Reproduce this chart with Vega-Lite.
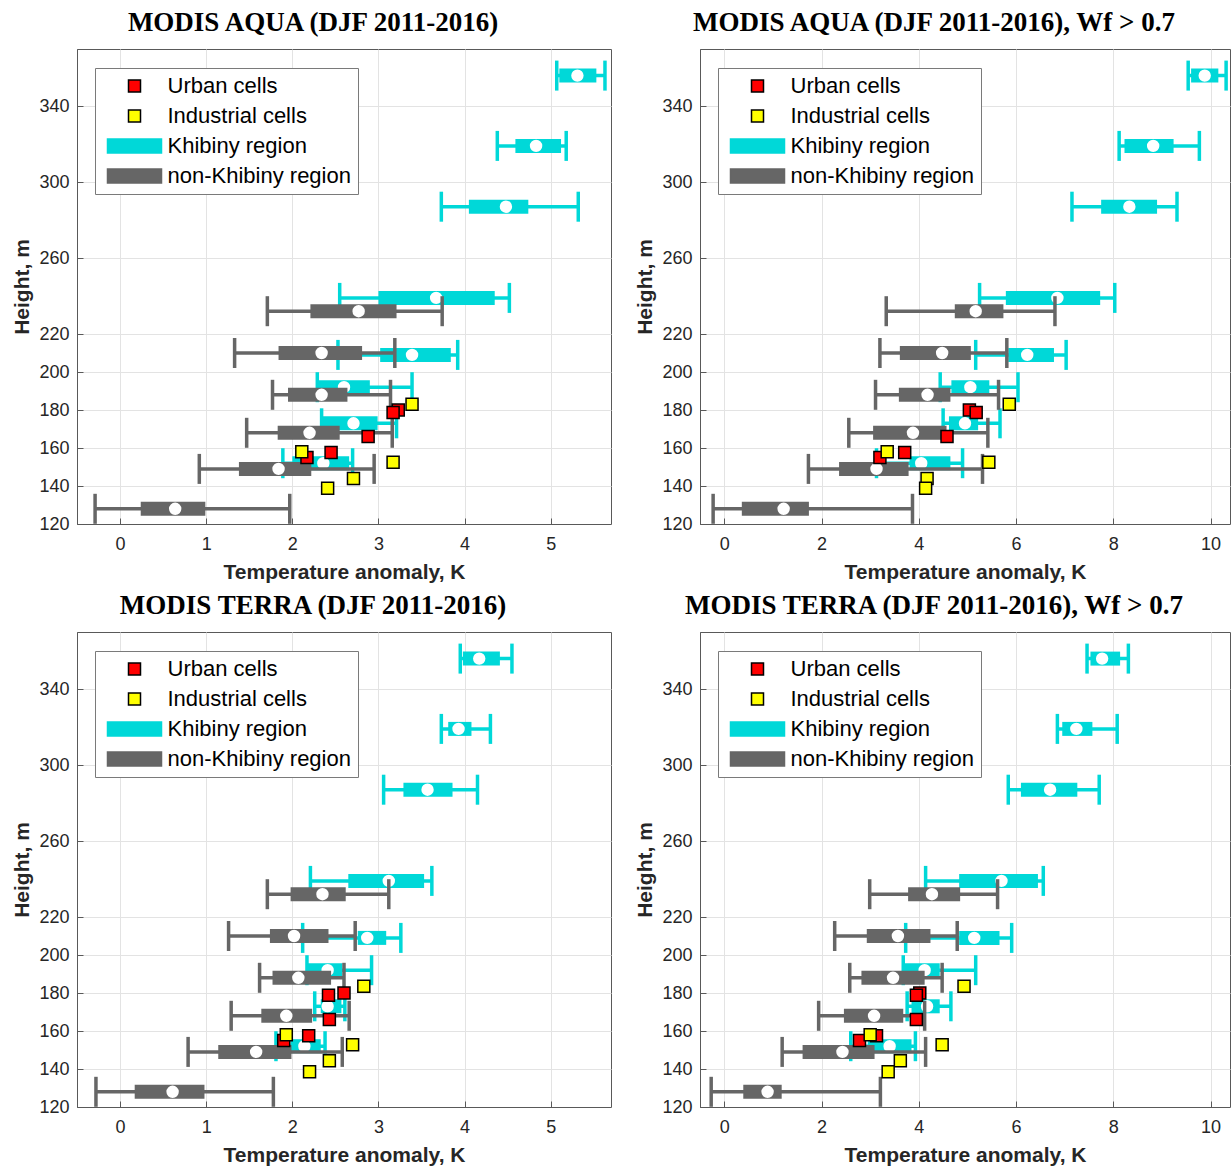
{
  "$schema": "https://vega.github.io/schema/vega-lite/v6.json",
  "background": "white",
  "padding": {"left": 11, "top": 8, "right": 0, "bottom": 0},
  "columns": 2,
  "bounds": "flush",
  "spacing": {"row": 108, "column": 89},
  "resolve": {
    "scale": {"fill": "independent", "stroke": "independent", "shape": "independent"},
    "legend": {"fill": "independent", "stroke": "independent", "shape": "independent"}
  },
  "datasets": {
    "boxes": [
      {"p":"A","r":"K","h":356,"lo":5.07,"q1":5.1,"md":5.31,"q3":5.53,"hi":5.63},
      {"p":"A","r":"K","h":319,"lo":4.38,"q1":4.59,"md":4.83,"q3":5.12,"hi":5.18},
      {"p":"A","r":"K","h":287,"lo":3.73,"q1":4.05,"md":4.48,"q3":4.74,"hi":5.32},
      {"p":"A","r":"K","h":239,"lo":2.55,"q1":3.0,"md":3.67,"q3":4.35,"hi":4.52},
      {"p":"A","r":"K","h":209,"lo":2.53,"q1":3.02,"md":3.39,"q3":3.84,"hi":3.92},
      {"p":"A","r":"K","h":192,"lo":2.29,"q1":2.29,"md":2.6,"q3":2.9,"hi":3.39},
      {"p":"A","r":"K","h":173,"lo":2.34,"q1":2.34,"md":2.71,"q3":2.99,"hi":3.21},
      {"p":"A","r":"K","h":152,"lo":1.89,"q1":2.0,"md":2.36,"q3":2.66,"hi":2.7},
      {"p":"A","r":"N","h":232,"lo":1.71,"q1":2.21,"md":2.77,"q3":3.21,"hi":3.74},
      {"p":"A","r":"N","h":210,"lo":1.33,"q1":1.84,"md":2.34,"q3":2.81,"hi":3.19},
      {"p":"A","r":"N","h":188,"lo":1.77,"q1":1.95,"md":2.34,"q3":2.64,"hi":3.14},
      {"p":"A","r":"N","h":168,"lo":1.47,"q1":1.83,"md":2.2,"q3":2.55,"hi":3.16},
      {"p":"A","r":"N","h":149,"lo":0.92,"q1":1.38,"md":1.84,"q3":2.22,"hi":2.95},
      {"p":"A","r":"N","h":128,"lo":-0.29,"q1":0.24,"md":0.64,"q3":0.99,"hi":1.97},

      {"p":"B","r":"K","h":356,"lo":9.54,"q1":9.6,"md":9.88,"q3":10.16,"hi":10.32},
      {"p":"B","r":"K","h":319,"lo":8.12,"q1":8.23,"md":8.82,"q3":9.24,"hi":9.77},
      {"p":"B","r":"K","h":287,"lo":7.15,"q1":7.75,"md":8.33,"q3":8.9,"hi":9.31},
      {"p":"B","r":"K","h":239,"lo":5.25,"q1":5.79,"md":6.85,"q3":7.73,"hi":8.03},
      {"p":"B","r":"K","h":209,"lo":5.17,"q1":5.84,"md":6.23,"q3":6.78,"hi":7.03},
      {"p":"B","r":"K","h":192,"lo":4.44,"q1":4.67,"md":5.06,"q3":5.45,"hi":6.04},
      {"p":"B","r":"K","h":173,"lo":4.5,"q1":4.62,"md":4.95,"q3":5.22,"hi":5.67},
      {"p":"B","r":"K","h":152,"lo":3.13,"q1":3.81,"md":4.05,"q3":4.65,"hi":4.9},
      {"p":"B","r":"N","h":232,"lo":3.33,"q1":4.74,"md":5.17,"q3":5.74,"hi":6.8},
      {"p":"B","r":"N","h":210,"lo":3.2,"q1":3.61,"md":4.48,"q3":5.07,"hi":5.81},
      {"p":"B","r":"N","h":188,"lo":3.11,"q1":3.59,"md":4.18,"q3":4.65,"hi":5.64},
      {"p":"B","r":"N","h":168,"lo":2.56,"q1":3.06,"md":3.88,"q3":4.57,"hi":5.42},
      {"p":"B","r":"N","h":149,"lo":1.73,"q1":2.36,"md":3.13,"q3":3.79,"hi":5.31},
      {"p":"B","r":"N","h":128,"lo":-0.23,"q1":0.36,"md":1.22,"q3":1.74,"hi":3.87},

      {"p":"C","r":"K","h":356,"lo":3.95,"q1":3.98,"md":4.17,"q3":4.41,"hi":4.55},
      {"p":"C","r":"K","h":319,"lo":3.73,"q1":3.81,"md":3.93,"q3":4.08,"hi":4.3},
      {"p":"C","r":"K","h":287,"lo":3.06,"q1":3.29,"md":3.57,"q3":3.86,"hi":4.15},
      {"p":"C","r":"K","h":239,"lo":2.21,"q1":2.65,"md":3.12,"q3":3.53,"hi":3.62},
      {"p":"C","r":"K","h":209,"lo":2.12,"q1":2.76,"md":2.87,"q3":3.09,"hi":3.26},
      {"p":"C","r":"K","h":192,"lo":2.17,"q1":2.17,"md":2.41,"q3":2.58,"hi":2.92},
      {"p":"C","r":"K","h":173,"lo":2.26,"q1":2.33,"md":2.41,"q3":2.57,"hi":2.61},
      {"p":"C","r":"K","h":152,"lo":1.81,"q1":1.98,"md":2.14,"q3":2.33,"hi":2.38},
      {"p":"C","r":"N","h":232,"lo":1.71,"q1":1.98,"md":2.35,"q3":2.62,"hi":3.12},
      {"p":"C","r":"N","h":210,"lo":1.26,"q1":1.74,"md":2.02,"q3":2.42,"hi":2.73},
      {"p":"C","r":"N","h":188,"lo":1.62,"q1":1.77,"md":2.07,"q3":2.45,"hi":2.6},
      {"p":"C","r":"N","h":168,"lo":1.29,"q1":1.64,"md":1.93,"q3":2.23,"hi":2.66},
      {"p":"C","r":"N","h":149,"lo":0.79,"q1":1.14,"md":1.58,"q3":1.99,"hi":2.58},
      {"p":"C","r":"N","h":128,"lo":-0.28,"q1":0.17,"md":0.61,"q3":0.98,"hi":1.78},

      {"p":"D","r":"K","h":356,"lo":7.46,"q1":7.53,"md":7.77,"q3":8.14,"hi":8.31},
      {"p":"D","r":"K","h":319,"lo":6.85,"q1":6.95,"md":7.24,"q3":7.57,"hi":8.08},
      {"p":"D","r":"K","h":287,"lo":5.84,"q1":6.1,"md":6.7,"q3":7.26,"hi":7.71},
      {"p":"D","r":"K","h":239,"lo":4.14,"q1":4.83,"md":5.7,"q3":6.45,"hi":6.56},
      {"p":"D","r":"K","h":209,"lo":3.73,"q1":4.83,"md":5.14,"q3":5.66,"hi":5.91},
      {"p":"D","r":"K","h":192,"lo":3.68,"q1":3.68,"md":4.12,"q3":4.43,"hi":5.17},
      {"p":"D","r":"K","h":173,"lo":3.76,"q1":3.85,"md":4.17,"q3":4.43,"hi":4.66},
      {"p":"D","r":"K","h":152,"lo":2.6,"q1":2.95,"md":3.4,"q3":3.85,"hi":3.93},
      {"p":"D","r":"N","h":232,"lo":2.99,"q1":3.78,"md":4.27,"q3":4.85,"hi":5.62},
      {"p":"D","r":"N","h":210,"lo":2.27,"q1":2.93,"md":3.57,"q3":4.24,"hi":4.79},
      {"p":"D","r":"N","h":188,"lo":2.58,"q1":2.82,"md":3.47,"q3":4.12,"hi":4.48},
      {"p":"D","r":"N","h":168,"lo":1.94,"q1":2.46,"md":3.08,"q3":3.68,"hi":4.12},
      {"p":"D","r":"N","h":149,"lo":1.19,"q1":1.61,"md":2.43,"q3":3.09,"hi":4.14},
      {"p":"D","r":"N","h":128,"lo":-0.27,"q1":0.39,"md":0.89,"q3":1.18,"hi":3.21}
    ],
    "cells": [
      {"p":"A","c":"Urban cells","h":180,"t":3.23},
      {"p":"A","c":"Urban cells","h":178.7,"t":3.17},
      {"p":"A","c":"Urban cells","h":166,"t":2.88},
      {"p":"A","c":"Urban cells","h":157.6,"t":2.45},
      {"p":"A","c":"Urban cells","h":155,"t":2.17},
      {"p":"A","c":"Industrial cells","h":183,"t":3.39},
      {"p":"A","c":"Industrial cells","h":158,"t":2.11},
      {"p":"A","c":"Industrial cells","h":152.5,"t":3.17},
      {"p":"A","c":"Industrial cells","h":144,"t":2.71},
      {"p":"A","c":"Industrial cells","h":138.8,"t":2.41},

      {"p":"B","c":"Urban cells","h":180,"t":5.04},
      {"p":"B","c":"Urban cells","h":178.7,"t":5.18},
      {"p":"B","c":"Urban cells","h":166,"t":4.58},
      {"p":"B","c":"Urban cells","h":157.6,"t":3.71},
      {"p":"B","c":"Urban cells","h":155,"t":3.2},
      {"p":"B","c":"Industrial cells","h":183,"t":5.86},
      {"p":"B","c":"Industrial cells","h":158,"t":3.35},
      {"p":"B","c":"Industrial cells","h":152.5,"t":5.44},
      {"p":"B","c":"Industrial cells","h":144,"t":4.17},
      {"p":"B","c":"Industrial cells","h":138.8,"t":4.14},

      {"p":"C","c":"Urban cells","h":180,"t":2.6},
      {"p":"C","c":"Urban cells","h":178.8,"t":2.42},
      {"p":"C","c":"Urban cells","h":166,"t":2.43},
      {"p":"C","c":"Urban cells","h":157.5,"t":2.19},
      {"p":"C","c":"Urban cells","h":155,"t":1.9},
      {"p":"C","c":"Industrial cells","h":183.5,"t":2.83},
      {"p":"C","c":"Industrial cells","h":158,"t":1.93},
      {"p":"C","c":"Industrial cells","h":152.7,"t":2.7},
      {"p":"C","c":"Industrial cells","h":144.3,"t":2.43},
      {"p":"C","c":"Industrial cells","h":138.6,"t":2.2},

      {"p":"D","c":"Urban cells","h":180,"t":4.02},
      {"p":"D","c":"Urban cells","h":178.8,"t":3.95},
      {"p":"D","c":"Urban cells","h":166,"t":3.95},
      {"p":"D","c":"Urban cells","h":157.5,"t":3.13},
      {"p":"D","c":"Urban cells","h":155,"t":2.78},
      {"p":"D","c":"Industrial cells","h":183.5,"t":4.93},
      {"p":"D","c":"Industrial cells","h":158,"t":3.0},
      {"p":"D","c":"Industrial cells","h":152.7,"t":4.48},
      {"p":"D","c":"Industrial cells","h":144.3,"t":3.62},
      {"p":"D","c":"Industrial cells","h":138.6,"t":3.37}
    ]
  },
  "concat": [
    {
      "width": 534, "height": 475,
      "title": {"text": "MODIS AQUA (DJF 2011-2016)", "dx": -31},
      "encoding": {"y": {"field": "h", "type": "quantitative", "scale": {"domain": [120, 370], "nice": false, "zero": false, "padding": 0}, "axis": {"title": "Height, m", "values": [120, 140, 160, 180, 200, 220, 260, 300, 340]}}},
      "layer": [
        {"data": {"name": "boxes"}, "transform": [{"filter": "datum.p === 'A' && datum.r === 'K'"}],
         "layer": [
           {"mark": {"type": "rule", "color": "#00d8d8", "strokeWidth": 3.5}, "encoding": {"x": {"field": "lo", "type": "quantitative", "scale": {"domain": [-0.5, 5.7], "nice": false, "zero": false, "padding": 0}, "axis": {"title": "Temperature anomaly, K", "values": [0, 1, 2, 3, 4, 5], "format": "d"}}, "x2": {"field": "hi"}}},
           {"mark": {"type": "tick", "orient": "vertical", "color": "#00d8d8", "thickness": 3.5, "size": 30, "opacity": 1}, "encoding": {"x": {"field": "lo", "type": "quantitative"}}},
           {"mark": {"type": "tick", "orient": "vertical", "color": "#00d8d8", "thickness": 3.5, "size": 30, "opacity": 1}, "encoding": {"x": {"field": "hi", "type": "quantitative"}}},
           {"mark": {"type": "bar", "orient": "horizontal", "color": "#00d8d8", "size": 14}, "encoding": {"x": {"field": "q1", "type": "quantitative"}, "x2": {"field": "q3"}}},
           {"mark": {"type": "circle", "color": "white", "size": 154, "opacity": 1}, "encoding": {"x": {"field": "md", "type": "quantitative"}}}
         ]},
        {"data": {"name": "boxes"}, "transform": [{"filter": "datum.p === 'A' && datum.r === 'N'"}],
         "layer": [
           {"mark": {"type": "rule", "color": "#666666", "strokeWidth": 3.5}, "encoding": {"x": {"field": "lo", "type": "quantitative"}, "x2": {"field": "hi"}}},
           {"mark": {"type": "tick", "orient": "vertical", "color": "#666666", "thickness": 3.5, "size": 30, "opacity": 1}, "encoding": {"x": {"field": "lo", "type": "quantitative"}}},
           {"mark": {"type": "tick", "orient": "vertical", "color": "#666666", "thickness": 3.5, "size": 30, "opacity": 1}, "encoding": {"x": {"field": "hi", "type": "quantitative"}}},
           {"mark": {"type": "bar", "orient": "horizontal", "color": "#666666", "size": 14}, "encoding": {"x": {"field": "q1", "type": "quantitative"}, "x2": {"field": "q3"}}},
           {"mark": {"type": "circle", "color": "white", "size": 154, "opacity": 1}, "encoding": {"x": {"field": "md", "type": "quantitative"}}}
         ]},
        {"data": {"name": "cells"}, "transform": [{"filter": "datum.p === 'A'"}],
         "mark": {"type": "point", "filled": true, "opacity": 1, "size": 144, "strokeWidth": 1.5},
         "encoding": {
           "x": {"field": "t", "type": "quantitative"},
           "fill": {"field": "c", "type": "nominal", "title": null, "scale": {"domain": ["Urban cells", "Industrial cells", "Khibiny region", "non-Khibiny region"], "range": ["#ff0000", "#ffff00", "#00d8d8", "#666666"]}, "legend": {"orient": "none", "legendX": 18, "legendY": 19}},
           "stroke": {"field": "c", "type": "nominal", "title": null, "scale": {"domain": ["Urban cells", "Industrial cells", "Khibiny region", "non-Khibiny region"], "range": ["#000000", "#000000", "#00d8d8", "#666666"]}},
           "shape": {"field": "c", "type": "nominal", "title": null, "scale": {"domain": ["Urban cells", "Industrial cells", "Khibiny region", "non-Khibiny region"], "range": ["square", "square", "M-4.5,-1.15H4.5V1.15H-4.5Z", "M-4.5,-1.15H4.5V1.15H-4.5Z"]}}
         }}
      ]
    },
    {
      "width": 530, "height": 475,
      "title": {"text": "MODIS AQUA (DJF 2011-2016), Wf > 0.7", "dx": -31},
      "encoding": {"y": {"field": "h", "type": "quantitative", "scale": {"domain": [120, 370], "nice": false, "zero": false, "padding": 0}, "axis": {"title": "Height, m", "values": [120, 140, 160, 180, 200, 220, 260, 300, 340]}}},
      "layer": [
        {"data": {"name": "boxes"}, "transform": [{"filter": "datum.p === 'B' && datum.r === 'K'"}],
         "layer": [
           {"mark": {"type": "rule", "color": "#00d8d8", "strokeWidth": 3.5}, "encoding": {"x": {"field": "lo", "type": "quantitative", "scale": {"domain": [-0.5, 10.4], "nice": false, "zero": false, "padding": 0}, "axis": {"title": "Temperature anomaly, K", "values": [0, 2, 4, 6, 8, 10], "format": "d"}}, "x2": {"field": "hi"}}},
           {"mark": {"type": "tick", "orient": "vertical", "color": "#00d8d8", "thickness": 3.5, "size": 30, "opacity": 1}, "encoding": {"x": {"field": "lo", "type": "quantitative"}}},
           {"mark": {"type": "tick", "orient": "vertical", "color": "#00d8d8", "thickness": 3.5, "size": 30, "opacity": 1}, "encoding": {"x": {"field": "hi", "type": "quantitative"}}},
           {"mark": {"type": "bar", "orient": "horizontal", "color": "#00d8d8", "size": 14}, "encoding": {"x": {"field": "q1", "type": "quantitative"}, "x2": {"field": "q3"}}},
           {"mark": {"type": "circle", "color": "white", "size": 154, "opacity": 1}, "encoding": {"x": {"field": "md", "type": "quantitative"}}}
         ]},
        {"data": {"name": "boxes"}, "transform": [{"filter": "datum.p === 'B' && datum.r === 'N'"}],
         "layer": [
           {"mark": {"type": "rule", "color": "#666666", "strokeWidth": 3.5}, "encoding": {"x": {"field": "lo", "type": "quantitative"}, "x2": {"field": "hi"}}},
           {"mark": {"type": "tick", "orient": "vertical", "color": "#666666", "thickness": 3.5, "size": 30, "opacity": 1}, "encoding": {"x": {"field": "lo", "type": "quantitative"}}},
           {"mark": {"type": "tick", "orient": "vertical", "color": "#666666", "thickness": 3.5, "size": 30, "opacity": 1}, "encoding": {"x": {"field": "hi", "type": "quantitative"}}},
           {"mark": {"type": "bar", "orient": "horizontal", "color": "#666666", "size": 14}, "encoding": {"x": {"field": "q1", "type": "quantitative"}, "x2": {"field": "q3"}}},
           {"mark": {"type": "circle", "color": "white", "size": 154, "opacity": 1}, "encoding": {"x": {"field": "md", "type": "quantitative"}}}
         ]},
        {"data": {"name": "cells"}, "transform": [{"filter": "datum.p === 'B'"}],
         "mark": {"type": "point", "filled": true, "opacity": 1, "size": 144, "strokeWidth": 1.5},
         "encoding": {
           "x": {"field": "t", "type": "quantitative"},
           "fill": {"field": "c", "type": "nominal", "title": null, "scale": {"domain": ["Urban cells", "Industrial cells", "Khibiny region", "non-Khibiny region"], "range": ["#ff0000", "#ffff00", "#00d8d8", "#666666"]}, "legend": {"orient": "none", "legendX": 18, "legendY": 19}},
           "stroke": {"field": "c", "type": "nominal", "title": null, "scale": {"domain": ["Urban cells", "Industrial cells", "Khibiny region", "non-Khibiny region"], "range": ["#000000", "#000000", "#00d8d8", "#666666"]}},
           "shape": {"field": "c", "type": "nominal", "title": null, "scale": {"domain": ["Urban cells", "Industrial cells", "Khibiny region", "non-Khibiny region"], "range": ["square", "square", "M-4.5,-1.15H4.5V1.15H-4.5Z", "M-4.5,-1.15H4.5V1.15H-4.5Z"]}}
         }}
      ]
    },
    {
      "width": 534, "height": 475,
      "title": {"text": "MODIS TERRA (DJF 2011-2016)", "dx": -31},
      "encoding": {"y": {"field": "h", "type": "quantitative", "scale": {"domain": [120, 370], "nice": false, "zero": false, "padding": 0}, "axis": {"title": "Height, m", "values": [120, 140, 160, 180, 200, 220, 260, 300, 340]}}},
      "layer": [
        {"data": {"name": "boxes"}, "transform": [{"filter": "datum.p === 'C' && datum.r === 'K'"}],
         "layer": [
           {"mark": {"type": "rule", "color": "#00d8d8", "strokeWidth": 3.5}, "encoding": {"x": {"field": "lo", "type": "quantitative", "scale": {"domain": [-0.5, 5.7], "nice": false, "zero": false, "padding": 0}, "axis": {"title": "Temperature anomaly, K", "values": [0, 1, 2, 3, 4, 5], "format": "d"}}, "x2": {"field": "hi"}}},
           {"mark": {"type": "tick", "orient": "vertical", "color": "#00d8d8", "thickness": 3.5, "size": 30, "opacity": 1}, "encoding": {"x": {"field": "lo", "type": "quantitative"}}},
           {"mark": {"type": "tick", "orient": "vertical", "color": "#00d8d8", "thickness": 3.5, "size": 30, "opacity": 1}, "encoding": {"x": {"field": "hi", "type": "quantitative"}}},
           {"mark": {"type": "bar", "orient": "horizontal", "color": "#00d8d8", "size": 14}, "encoding": {"x": {"field": "q1", "type": "quantitative"}, "x2": {"field": "q3"}}},
           {"mark": {"type": "circle", "color": "white", "size": 154, "opacity": 1}, "encoding": {"x": {"field": "md", "type": "quantitative"}}}
         ]},
        {"data": {"name": "boxes"}, "transform": [{"filter": "datum.p === 'C' && datum.r === 'N'"}],
         "layer": [
           {"mark": {"type": "rule", "color": "#666666", "strokeWidth": 3.5}, "encoding": {"x": {"field": "lo", "type": "quantitative"}, "x2": {"field": "hi"}}},
           {"mark": {"type": "tick", "orient": "vertical", "color": "#666666", "thickness": 3.5, "size": 30, "opacity": 1}, "encoding": {"x": {"field": "lo", "type": "quantitative"}}},
           {"mark": {"type": "tick", "orient": "vertical", "color": "#666666", "thickness": 3.5, "size": 30, "opacity": 1}, "encoding": {"x": {"field": "hi", "type": "quantitative"}}},
           {"mark": {"type": "bar", "orient": "horizontal", "color": "#666666", "size": 14}, "encoding": {"x": {"field": "q1", "type": "quantitative"}, "x2": {"field": "q3"}}},
           {"mark": {"type": "circle", "color": "white", "size": 154, "opacity": 1}, "encoding": {"x": {"field": "md", "type": "quantitative"}}}
         ]},
        {"data": {"name": "cells"}, "transform": [{"filter": "datum.p === 'C'"}],
         "mark": {"type": "point", "filled": true, "opacity": 1, "size": 144, "strokeWidth": 1.5},
         "encoding": {
           "x": {"field": "t", "type": "quantitative"},
           "fill": {"field": "c", "type": "nominal", "title": null, "scale": {"domain": ["Urban cells", "Industrial cells", "Khibiny region", "non-Khibiny region"], "range": ["#ff0000", "#ffff00", "#00d8d8", "#666666"]}, "legend": {"orient": "none", "legendX": 18, "legendY": 19}},
           "stroke": {"field": "c", "type": "nominal", "title": null, "scale": {"domain": ["Urban cells", "Industrial cells", "Khibiny region", "non-Khibiny region"], "range": ["#000000", "#000000", "#00d8d8", "#666666"]}},
           "shape": {"field": "c", "type": "nominal", "title": null, "scale": {"domain": ["Urban cells", "Industrial cells", "Khibiny region", "non-Khibiny region"], "range": ["square", "square", "M-4.5,-1.15H4.5V1.15H-4.5Z", "M-4.5,-1.15H4.5V1.15H-4.5Z"]}}
         }}
      ]
    },
    {
      "width": 530, "height": 475,
      "title": {"text": "MODIS TERRA (DJF 2011-2016), Wf > 0.7", "dx": -31},
      "encoding": {"y": {"field": "h", "type": "quantitative", "scale": {"domain": [120, 370], "nice": false, "zero": false, "padding": 0}, "axis": {"title": "Height, m", "values": [120, 140, 160, 180, 200, 220, 260, 300, 340]}}},
      "layer": [
        {"data": {"name": "boxes"}, "transform": [{"filter": "datum.p === 'D' && datum.r === 'K'"}],
         "layer": [
           {"mark": {"type": "rule", "color": "#00d8d8", "strokeWidth": 3.5}, "encoding": {"x": {"field": "lo", "type": "quantitative", "scale": {"domain": [-0.5, 10.4], "nice": false, "zero": false, "padding": 0}, "axis": {"title": "Temperature anomaly, K", "values": [0, 2, 4, 6, 8, 10], "format": "d"}}, "x2": {"field": "hi"}}},
           {"mark": {"type": "tick", "orient": "vertical", "color": "#00d8d8", "thickness": 3.5, "size": 30, "opacity": 1}, "encoding": {"x": {"field": "lo", "type": "quantitative"}}},
           {"mark": {"type": "tick", "orient": "vertical", "color": "#00d8d8", "thickness": 3.5, "size": 30, "opacity": 1}, "encoding": {"x": {"field": "hi", "type": "quantitative"}}},
           {"mark": {"type": "bar", "orient": "horizontal", "color": "#00d8d8", "size": 14}, "encoding": {"x": {"field": "q1", "type": "quantitative"}, "x2": {"field": "q3"}}},
           {"mark": {"type": "circle", "color": "white", "size": 154, "opacity": 1}, "encoding": {"x": {"field": "md", "type": "quantitative"}}}
         ]},
        {"data": {"name": "boxes"}, "transform": [{"filter": "datum.p === 'D' && datum.r === 'N'"}],
         "layer": [
           {"mark": {"type": "rule", "color": "#666666", "strokeWidth": 3.5}, "encoding": {"x": {"field": "lo", "type": "quantitative"}, "x2": {"field": "hi"}}},
           {"mark": {"type": "tick", "orient": "vertical", "color": "#666666", "thickness": 3.5, "size": 30, "opacity": 1}, "encoding": {"x": {"field": "lo", "type": "quantitative"}}},
           {"mark": {"type": "tick", "orient": "vertical", "color": "#666666", "thickness": 3.5, "size": 30, "opacity": 1}, "encoding": {"x": {"field": "hi", "type": "quantitative"}}},
           {"mark": {"type": "bar", "orient": "horizontal", "color": "#666666", "size": 14}, "encoding": {"x": {"field": "q1", "type": "quantitative"}, "x2": {"field": "q3"}}},
           {"mark": {"type": "circle", "color": "white", "size": 154, "opacity": 1}, "encoding": {"x": {"field": "md", "type": "quantitative"}}}
         ]},
        {"data": {"name": "cells"}, "transform": [{"filter": "datum.p === 'D'"}],
         "mark": {"type": "point", "filled": true, "opacity": 1, "size": 144, "strokeWidth": 1.5},
         "encoding": {
           "x": {"field": "t", "type": "quantitative"},
           "fill": {"field": "c", "type": "nominal", "title": null, "scale": {"domain": ["Urban cells", "Industrial cells", "Khibiny region", "non-Khibiny region"], "range": ["#ff0000", "#ffff00", "#00d8d8", "#666666"]}, "legend": {"orient": "none", "legendX": 18, "legendY": 19}},
           "stroke": {"field": "c", "type": "nominal", "title": null, "scale": {"domain": ["Urban cells", "Industrial cells", "Khibiny region", "non-Khibiny region"], "range": ["#000000", "#000000", "#00d8d8", "#666666"]}},
           "shape": {"field": "c", "type": "nominal", "title": null, "scale": {"domain": ["Urban cells", "Industrial cells", "Khibiny region", "non-Khibiny region"], "range": ["square", "square", "M-4.5,-1.15H4.5V1.15H-4.5Z", "M-4.5,-1.15H4.5V1.15H-4.5Z"]}}
         }}
      ]
    }
  ],
  "config": {
    "font": "Liberation Sans",
    "view": {"stroke": "#595959", "strokeWidth": 1},
    "axis": {
      "labelFont": "Liberation Sans", "labelFontSize": 18, "labelColor": "#262626",
      "titleFont": "Liberation Sans", "titleFontSize": 21, "titleFontWeight": "bold", "titleColor": "#262626",
      "gridColor": "#e3e3e3", "gridWidth": 1,
      "domainColor": "#595959", "tickColor": "#595959", "tickSize": -6, "labelPadding": 17, "titlePadding": 8
    },
    "axisY": {"labelPadding": 14, "titlePadding": 6},
    "title": {"font": "Liberation Serif", "fontSize": 27, "fontWeight": "bold", "color": "#000000", "offset": 12},
    "legend": {
      "labelFont": "Liberation Sans", "labelFontSize": 22, "labelColor": "#000000",
      "padding": 7, "fillColor": "white", "strokeColor": "#7a7a7a",
      "labelOffset": 22, "symbolOffset": 21.5, "rowPadding": 8,
      "symbolStrokeWidth": 1.5, "symbolSize": 144, "labelLimit": 0, "symbolOpacity": 1
    }
  }
}
